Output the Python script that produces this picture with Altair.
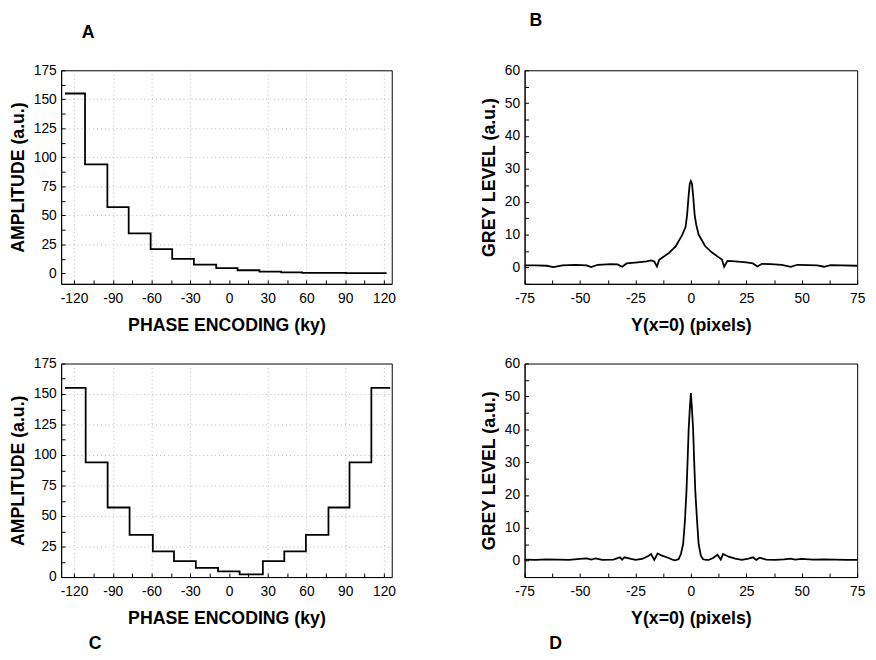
import altair as alt
import pandas as pd

FONT = "Liberation Sans"

# ---------- Panel A: amplitude vs phase encoding (one-sided steps) ----------
a_edges = [-127, -111.5, -94.2, -77.7, -60.7, -44, -27.2, -9.9, 6.6, 23.6, 40.4, 56.6, 73.5, 90.5, 107.5, 122]
a_levels = [155, 94, 57, 34.5, 21, 12.5, 7.5, 4.5, 2.7, 1.5, 0.9, 0.5, 0.35, 0.25, 0.2, 0.2]

# ---------- Panel C: amplitude vs phase encoding (U shaped steps) ----------
c_edges = [-127, -111, -94, -77, -59, -42.6, -25.7, -8.5, 8.2, 26.2, 42.8, 59.5, 77, 93.3, 110.2, 124.8]
c_levels = [155, 94, 57, 34.5, 21, 13, 7.5, 4.6, 2.2, 13, 21, 34.5, 57, 94, 155, 155]

# ---------- Panel B: grey level profile ----------
b_x = [-75, -70, -65, -62, -58, -52, -47, -45, -42, -36, -33, -31, -29, -24, -20, -18,
       -16.5, -15.3, -14.3, -12.8, -9.9, -6.9, -3.9, -2.4, -1.7, -1, -0.5, 0, 0.5, 1, 1.7,
       2.4, 3.5, 6.4, 9.4, 12.3, 14, 15, 16.5, 20, 25, 28, 30, 32, 36, 41, 45, 48, 53, 57,
       60, 63, 68, 75]
b_y = [0.6, 0.6, 0.5, 0.1, 0.6, 0.8, 0.6, 0.1, 0.8, 1.0, 0.9, 0.2, 1.2, 1.5, 1.8, 2.1,
       1.8, 0.3, 2.3, 3.0, 4.4, 6.4, 9.9, 12.3, 16, 22, 25.5, 26.3, 25.5, 22, 16,
       13, 10, 6.5, 4.6, 3.2, 2.4, 0.2, 2.0, 1.8, 1.5, 1.2, 0.3, 1.1, 1.0, 0.8, 0.2, 0.8, 0.7, 0.6,
       0.2, 0.7, 0.6, 0.5]

# ---------- Panel D: grey level profile ----------
d_x = [-75, -70, -65, -60, -55, -50, -47, -45, -43, -40, -35, -32, -31, -30, -27, -25, -22,
       -19, -18, -16.5, -15, -13, -10, -8, -7, -5.5, -4.5, -3.5, -2.7, -2, -1.5, -1, -0.5, 0,
       0.5, 1, 1.5, 2, 2.8, 3.5, 4.5, 5.5, 7, 8, 10, 12, 13.5, 14.5, 17, 20, 23, 26, 28, 29.5,
       31, 34, 38, 42, 45, 47, 50, 55, 60, 65, 70, 75]
d_y = [0.3, 0.2, 0.4, 0.3, 0.2, 0.5, 0.7, 0.3, 0.7, 0.2, 0.3, 1.0, 0.3, 1.0, 0.5, 0.2, 0.5,
       1.5, 2.0, 0.2, 2.2, 1.5, 0.8, 0.2, 0.1, 0.5, 2.0, 5.0, 12, 21, 30, 40, 46, 51,
       46, 40, 30, 21, 12, 5.0, 1.5, 0.4, 0.2, 0.2, 0.8, 1.8, 0.3, 2.0, 1.2, 0.6, 0.2, 0.6, 1.0, 0.2,
       0.9, 0.3, 0.2, 0.4, 0.6, 0.3, 0.5, 0.3, 0.4, 0.3, 0.2, 0.2]

TICK_IN = alt.ExprRef(expr="-4")


def letter(t, orient, dx, offset):
    return alt.TitleParams(text=t, orient=orient, anchor="start", frame="group",
                           dx=dx, offset=offset, fontSize=18, font=FONT,
                           fontWeight="bold", color="black")


def step_panel(xs, ys, y_dom, title):
    df = pd.DataFrame({"x": xs, "y": ys})
    x_ax = alt.Axis(values=list(range(-120, 121, 15)),
                    labelExpr="datum.value % 30 === 0 ? '' + datum.value : ''",
                    title="PHASE ENCODING (ky)", tickSize=TICK_IN, labelPadding=12,
                    titlePadding=11, labelOverlap=False, labelFlush=False,
                    grid=True, gridDash=[1, 3], gridColor="#9a9a9a",
                    gridOpacity={"condition": {"test": "datum.value % 30 === 0 && datum.value !== 0", "value": 0.7}, "value": 0})
    y_ax = alt.Axis(values=[v * 12.5 for v in range(0, 15)],
                    labelExpr="datum.value % 25 === 0 ? '' + datum.value : ''",
                    title="AMPLITUDE (a.u.)", tickSize=TICK_IN, labelPadding=9,
                    titlePadding=6, labelOverlap=False, labelFlush=False,
                    grid=True, gridDash=[1, 3], gridColor="#9a9a9a",
                    gridOpacity={"condition": {"test": "datum.value % 25 === 0 && datum.value > 0 && datum.value < 175", "value": 0.7}, "value": 0})
    return alt.Chart(df).mark_line(interpolate="step-after", color="black", strokeWidth=1.8).encode(
        x=alt.X("x:Q", scale=alt.Scale(domain=[-130, 126], nice=False, zero=False), axis=x_ax),
        y=alt.Y("y:Q", scale=alt.Scale(domain=y_dom, nice=False, zero=False), axis=y_ax),
    ).properties(width=336, height=217, title=title)


def profile_panel(xs, ys, title):
    df = pd.DataFrame({"x": xs, "y": ys})
    x_ax = alt.Axis(values=[v * 12.5 for v in range(-6, 7)],
                    labelExpr="datum.value % 25 === 0 ? '' + datum.value : ''",
                    title="Y(x=0) (pixels)", tickSize=TICK_IN, labelPadding=12,
                    titlePadding=11, labelOverlap=False, labelFlush=False, grid=False)
    y_ax = alt.Axis(values=list(range(-5, 61, 5)),
                    labelExpr="datum.value % 10 === 0 ? '' + datum.value : ''",
                    title="GREY LEVEL (a.u.)", tickSize=TICK_IN, labelPadding=9,
                    titlePadding=6, labelOverlap=False, labelFlush=False, grid=False)
    return alt.Chart(df).mark_line(color="black", strokeWidth=1.8).encode(
        x=alt.X("x:Q", scale=alt.Scale(domain=[-75, 75], nice=False, zero=False), axis=x_ax),
        y=alt.Y("y:Q", scale=alt.Scale(domain=[-5, 60], nice=False, zero=False), axis=y_ax),
    ).properties(width=338, height=217, title=title)


pa = step_panel(a_edges, a_levels, [-9, 175], letter("A", "top", 21, 22))
pb = profile_panel(b_x, b_y, letter("B", "top", 5, 34))
pc = step_panel(c_edges, c_levels, [0, 175], letter("C", "bottom", 28, 8))
pd_ = profile_panel(d_x, d_y, letter("D", "bottom", 25, 8))

chart = alt.vconcat(
    alt.hconcat(pa, pb, spacing=84),
    alt.hconcat(pc, pd_, spacing=84),
    spacing=21,
).properties(
    padding={"left": 1, "top": -2, "right": 2, "bottom": 2}
).configure_view(
    stroke="black", strokeWidth=1
).configure_axis(
    domainColor="black", tickColor="black", labelColor="black", titleColor="black",
    labelFont=FONT, titleFont=FONT, labelFontSize=14, titleFontSize=18,
    titleFontWeight="bold", labelFontWeight="normal", domainWidth=1, tickWidth=1
).configure_title(
    font=FONT
)

chart.save("out.html", embed_options={"renderer": "svg", "actions": False})
